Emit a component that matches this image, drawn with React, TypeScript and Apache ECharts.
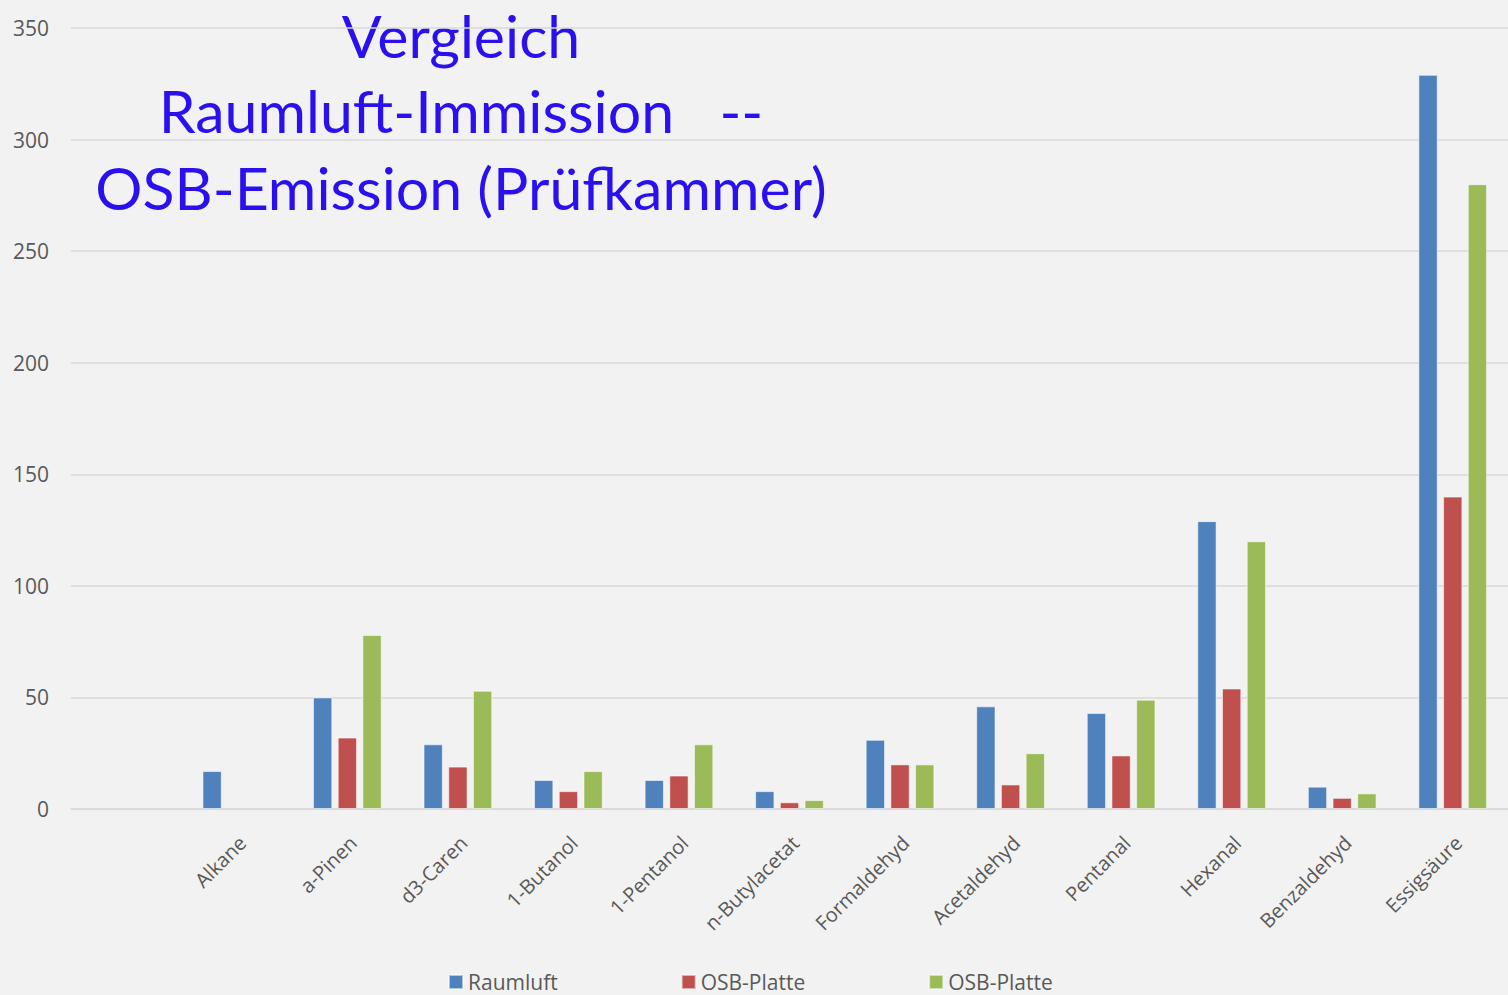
import React, { useEffect, useRef } from "react";
import * as echarts from "echarts";

const categories = ["", "Alkane", "a-Pinen", "d3-Caren", "1-Butanol", "1-Pentanol", "n-Butylacetat", "Formaldehyd", "Acetaldehyd", "Pentanal", "Hexanal", "Benzaldehyd", "Essigsäure"];
const seriesNames = ["Raumluft", "OSB-Platte", "OSB-Platte (2)"];
const raumluft = [null, 17, 50, 29, 13, 13, 8, 31, 46, 43, 129, 10, 329];
const osbPlatte1 = [null, null, 32, 19, 8, 15, 3, 20, 11, 24, 54, 5, 140];
const osbPlatte2 = [null, null, 78, 53, 17, 29, 4, 20, 25, 49, 120, 7, 280];
const yTicks = { min: 0, max: 350, interval: 50 };
const titleLines = ["Vergleich", "Raumluft-Immission   --", "OSB-Emission (Prüfkammer)"];
const colors = ["#4f81bd", "#c0504d", "#9bbb59"];

export default function App() {
  const ref = useRef<HTMLDivElement>(null);
  useEffect(() => {
    const chart = echarts.init(ref.current!, null, { renderer: "svg" });
    const dataSets = [raumluft, osbPlatte1, osbPlatte2];
    const titleY = [35, 110, 187];
    chart.setOption({
      animation: false,
      backgroundColor: "#f2f2f2",
      color: colors,
      textStyle: { fontFamily: "Open Sans" },
      grid: { left: 71, right: -10, top: 28, bottom: 186, containLabel: false },
      legend: {
        left: 448,
        top: 970,
        padding: 0,
        itemWidth: 14,
        itemHeight: 14,
        itemGap: 123,
        icon: "rect",
        textStyle: { fontSize: 21, lineHeight: 24, color: "#595959", fontFamily: "Open Sans" },
        formatter: (n: string) => n.replace(" (2)", ""),
        data: seriesNames,
      },
      xAxis: {
        type: "category",
        data: categories,
        axisLine: { lineStyle: { color: "#d9d9d9", width: 1.5 } },
        axisTick: { show: false },
        axisLabel: { rotate: 45, fontSize: 20, color: "#595959", margin: 36, padding: [0, -8, 0, 0], interval: 0 },
      },
      yAxis: {
        type: "value",
        min: yTicks.min,
        max: yTicks.max,
        interval: yTicks.interval,
        axisLine: { show: false },
        axisTick: { show: false },
        axisLabel: { fontSize: 21, color: "#595959", margin: 22 },
        splitLine: { lineStyle: { color: "#d9d9d9", width: 1.5 } },
      },
      series: seriesNames.map((name, i) => ({
        name,
        type: "bar",
        data: dataSets[i],
        barWidth: 19.3,
        barGap: "28%",
        itemStyle: { color: colors[i], borderColor: "rgba(255,255,255,0.55)", borderWidth: 1 },
      })),
      graphic: titleLines.map((t, i) => ({
        type: "text",
        x: 461,
        y: titleY[i],
        style: {
          text: t,
          fill: "#2a10ee",
          font: "59px Lato",
          lineHeight: 59,
          textAlign: "center",
          textVerticalAlign: "middle",
        },
      })),
    });
    return () => chart.dispose();
  }, []);
  return <div ref={ref} style={{ position: "fixed", left: 0, top: 0, width: 1508, height: 995 }} />;
}
